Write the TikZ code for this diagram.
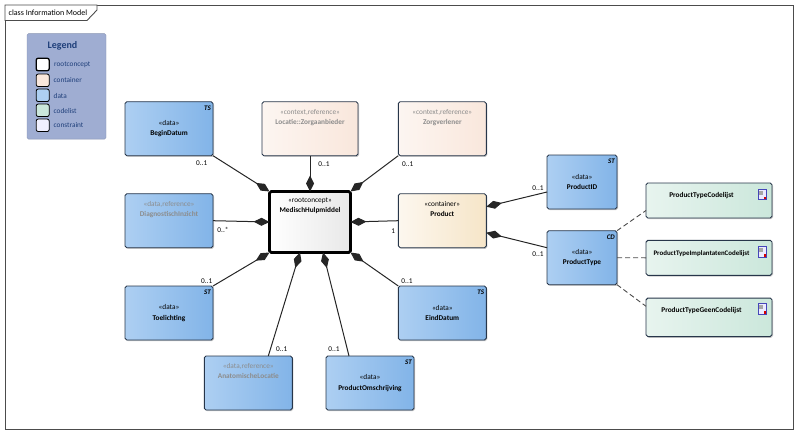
\documentclass[tikz,border=0pt]{standalone}
\usepackage{fontspec}
\setmainfont{Carlito}
\usetikzlibrary{arrows.meta,shadows}

\definecolor{edgedark}{HTML}{27364A}
\definecolor{refgrey}{HTML}{8C8C8C}
\definecolor{legendfill}{HTML}{9FADD2}
\definecolor{legendtext}{HTML}{1F3F7A}
\definecolor{databg1}{HTML}{ADCFF2}
\definecolor{databg2}{HTML}{82B4E8}
\definecolor{ctxbg}{HTML}{F9E7DC}
\definecolor{contbg}{HTML}{F6E5C8}
\definecolor{codebg}{HTML}{CBE7DB}

\tikzset{
  umlbox/.style={draw=edgedark, line width=0.9pt, rounded corners=1.8pt, outer sep=0pt, inner sep=0pt,
    align=center, font=\fontsize{7.3}{10.2}\selectfont, shade, shading angle=90,
    drop shadow={shadow xshift=1pt, shadow yshift=-1.2pt, fill=black!30, opacity=0.7}},
  databox/.style={umlbox, left color=databg1, right color=databg2, minimum width=88pt, minimum height=54pt},
  typebox/.style={databox, minimum width=70pt},
  contextbox/.style={umlbox, left color=white!60!ctxbg, right color=ctxbg, minimum width=#1, minimum height=54pt, text=refgrey},
  contextbox/.default=88pt,
  containerbox/.style={umlbox, left color=white!70!contbg, right color=contbg, minimum width=88pt, minimum height=54pt},
  rootbox/.style={umlbox, line width=2.6pt, draw=black, left color=white, right color=black!9, minimum width=81pt, minimum height=61pt},
  codebox/.style={umlbox, left color=white!55!codebg, right color=codebg, minimum width=126pt},
  reftext/.style={text=refgrey},
  typetag/.style={font=\fontsize{7}{8}\selectfont\bfseries\itshape, inner xsep=2pt, inner ysep=4pt, anchor=north east},
  mult/.style={font=\fontsize{7.3}{8}\selectfont, inner sep=0pt},
  assoc/.style={line width=1pt, draw=black!85, {Diamond[length=16pt,width=8pt]}-},
  realize/.style={line width=0.9pt, draw=black!70, dash pattern=on 5pt off 3pt},
  swatch/.style={draw=black, line width=0.8pt, rounded corners=2pt, minimum width=13pt, minimum height=12.5pt, inner sep=0pt},
  legendtag/.style={font=\fontsize{7.3}{8}\selectfont, text=legendtext, anchor=west, inner sep=0pt},
  docicon/.style={draw=blue!45!gray, fill=blue!8, line width=0.6pt, minimum width=8.5pt, minimum height=10.5pt, inner sep=0pt}
}

% tekst bovenin het blok
\newcommand{\toptext}[3][14pt]{#2\\\textbf{#3}\\[#1]~}
\newcommand{\midtext}[2]{#1\\\textbf{#2}}
\newcommand{\codetext}[2][0pt]{\textbf{#2}\hspace*{15pt}\\[#1]~}

\begin{document}
\begin{tikzpicture}[x=1pt, y=-1pt]
    \useasboundingbox (0,0) rectangle (800,434);

    % kader
    \node[draw=black!70, line width=0.9pt, minimum width=788pt, minimum height=424pt, inner sep=0pt] (frame) at (399,217) {};
    \draw[draw=black!70, line width=0.9pt, fill=white] (5,5) -- (97,5) -- (97,10) -- (87,20.5) -- (5,20.5) -- cycle;
    \node[font=\fontsize{8}{9}\selectfont, anchor=west, inner sep=0pt] (title) at (8.5,12.5) {class Information Model};

    % legenda
    \node[draw=legendfill!85!black, fill=legendfill, rounded corners=1.5pt, minimum width=79pt, minimum height=105.5pt, inner sep=0pt] (legend) at (66.5,86.3) {};
    \node[font=\fontsize{10}{11}\selectfont\bfseries, text=legendtext] (legendtitle) at (62.5,45.5) {Legend};
    \node[swatch, fill=white, line width=1.3pt] (s1) at (42.7,64.5) {};
    \node[swatch, fill=ctxbg] (s2) at (42.7,80.3) {};
    \node[swatch, fill=databg1] (s3) at (42.7,95.3) {};
    \node[swatch, fill=codebg] (s4) at (42.7,110.3) {};
    \node[swatch, fill=blue!6] (s5) at (42.7,125.3) {};
    \node[legendtag] (l1) at (54,65) {rootconcept};
    \node[legendtag] (l2) at (53.5,80.5) {container};
    \node[legendtag] (l3) at (53.5,95.5) {data};
    \node[legendtag] (l4) at (53.5,110.5) {codelist};
    \node[legendtag] (l5) at (53.5,125.5) {constraint};

    % blokken
    \node[rootbox] (Root) at (310,222) {\toptext[24pt]{«rootconcept»}{MedischHulpmiddel}};
    \node[databox, label={[typetag]north east:TS}] (BeginDatum) at (169,128.7) {\midtext{«data»}{BeginDatum}};
    \node[contextbox=96pt] (Locatie) at (310,128.7) {\toptext{«context,reference»}{Locatie::Zorgaanbieder}};
    \node[contextbox] (Zorgverlener) at (442.3,128.7) {\toptext{«context,reference»}{Zorgverlener}};
    \node[databox, reftext] (Diagnostisch) at (169,220.7) {\toptext{«data,reference»}{DiagnostischInzicht}};
    \node[containerbox] (Product) at (442.3,220.7) {\toptext{«container»}{Product}};
    \node[databox, label={[typetag]north east:ST}] (Toelichting) at (169,313) {\midtext{«data»}{Toelichting}};
    \node[databox, label={[typetag]north east:TS}] (EindDatum) at (442.3,313) {\midtext{«data»}{EindDatum}};
    \node[databox, reftext] (Anatomisch) at (248.3,383) {\toptext{«data,reference»}{AnatomischeLocatie}};
    \node[databox, label={[typetag]north east:ST}] (Omschrijving) at (370,383) {\midtext{«data»}{ProductOmschrijving}};
    \node[typebox, label={[typetag]north east:ST}] (ProductID) at (582,182) {\midtext{«data»}{ProductID}};
    \node[typebox, label={[typetag]north east:CD}] (ProductType) at (582,257.7) {\midtext{«data»}{ProductType}};
    \node[codebox, minimum height=35pt] (Code1) at (709,200.5) {\codetext{ProductTypeCodelijst}};
    \node[codebox, minimum height=35pt, font=\fontsize{6.9}{10.2}\selectfont] (Code2) at (709,257.8) {\codetext{ProductTypeImplantatenCodelijst}};
    \node[codebox, minimum height=38.5pt] (Code3) at (709,317.3) {\codetext[4.5pt]{ProductTypeGeenCodelijst}};

    % document-icoontjes
    \foreach \n/\y in {1/194.5, 2/252, 3/309} {
      \node[docicon] (icon\n) at (762.5,\y) {};
      \node[fill=black!35, minimum width=4pt, minimum height=4pt, inner sep=0pt] (txt\n) at (761,\y-2) {};
      \node[fill=red!85!black, minimum size=2.2pt, inner sep=0pt] (dot\n) at (765,\y+3.5) {};
    }

    % associaties
    \draw[assoc] (Root.north west) -- (BeginDatum.south east);
    \draw[assoc] (Root.north) -- (Locatie.south);
    \draw[assoc] (Root.north east) -- (Zorgverlener.south west);
    \draw[assoc] (Root.west) -- (Diagnostisch.east);
    \draw[assoc] (Root.east) -- (Product.west);
    \draw[assoc] (Root.south west) -- (Toelichting.north east);
    \draw[assoc] (Root.south east) -- (EindDatum.north west);
    \draw[assoc] ([xshift=-10pt]Root.south) -- ([xshift=20pt]Anatomisch.north);
    \draw[assoc] ([xshift=13pt]Root.south) -- ([xshift=-21pt]Omschrijving.north);
    \draw[assoc] ([yshift=14pt]Product.east) -- ([yshift=-10pt]ProductID.west);
    \draw[assoc] ([yshift=-12pt]Product.east) -- ([yshift=10pt]ProductType.west);

    % realisaties
    \draw[realize] (ProductType.north east) -- ([yshift=-10pt]Code1.west);
    \draw[realize] (ProductType.east) -- (Code2.west);
    \draw[realize] (ProductType.south east) -- ([yshift=11pt]Code3.west);

    % multipliciteit
    \node[mult] (m1) at (201.7,163) {0..1};
    \node[mult] (m2) at (324,164) {0..1};
    \node[mult] (m3) at (407.7,164) {0..1};
    \node[mult] (m4) at (223,230) {0..*};
    \node[mult] (m5) at (393.3,230.7) {1};
    \node[mult] (m6) at (206.7,280.7) {0..1};
    \node[mult] (m7) at (407,280.7) {0..1};
    \node[mult] (m8) at (281.7,349.3) {0..1};
    \node[mult] (m9) at (334,349.3) {0..1};
    \node[mult] (m10) at (538,188) {0..1};
    \node[mult] (m11) at (538,254.3) {0..1};
\end{tikzpicture}
\end{document}
